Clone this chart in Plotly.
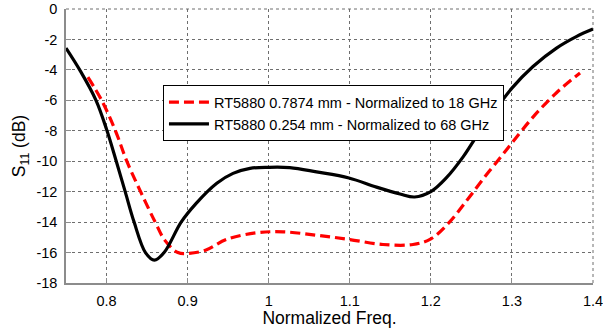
import plotly.graph_objects as go

# Data
black_x = [0.75, 0.768, 0.787, 0.80, 0.812, 0.823, 0.834, 0.848, 0.859, 0.871, 0.892,
           0.91, 0.936, 0.956, 0.977, 1.00, 1.026, 1.059, 1.099, 1.133, 1.162, 1.18,
           1.20, 1.219, 1.24, 1.256, 1.273, 1.30, 1.326, 1.355, 1.38, 1.40]
black_y = [-2.57, -4.1, -6.0, -7.9, -10.0, -12.0, -14.0, -16.0, -16.5, -16.0, -14.0,
           -12.8, -11.45, -10.8, -10.47, -10.4, -10.42, -10.7, -11.1, -11.7, -12.15, -12.35,
           -12.0, -11.1, -9.7, -8.4, -7.1, -5.2, -3.78, -2.57, -1.8, -1.32]

red_x = [0.777, 0.794, 0.811, 0.825, 0.842, 0.86, 0.872, 0.888, 0.902, 0.922,
         0.948, 0.985, 1.018, 1.059, 1.099, 1.141, 1.178, 1.20, 1.223, 1.244, 1.264,
         1.285, 1.30, 1.326, 1.355, 1.384]
red_y = [-4.48, -6.0, -8.0, -10.0, -12.0, -14.0, -15.2, -16.0, -16.05, -15.85,
         -15.14, -14.7, -14.64, -14.86, -15.14, -15.47, -15.47, -15.1, -14.0, -12.6, -11.2,
         -9.8, -8.8, -7.1, -5.5, -4.2]

x_ticks = [0.8, 0.9, 1.0, 1.1, 1.2, 1.3, 1.4]
x_tick_labels = ["0.8", "0.9", "1", "1.1", "1.2", "1.3", "1.4"]
y_ticks = [0, -2, -4, -6, -8, -10, -12, -14, -16, -18]
y_tick_labels = ["0", "-2", "-4", "-6", "-8", "-10", "-12", "-14", "-16", "-18"]

name_red = "RT5880 0.7874 mm - Normalized to 18 GHz"
name_black = "RT5880 0.254 mm - Normalized to 68 GHz"

FONT = "Liberation Sans, Arial, sans-serif"

fig = go.Figure()
fig.add_trace(go.Scatter(x=red_x, y=red_y, mode="lines", name=name_red,
                         line=dict(color="#ff0000", width=3.2, dash="10px,5px",
                                   shape="spline", smoothing=1.0)))
fig.add_trace(go.Scatter(x=black_x, y=black_y, mode="lines", name=name_black,
                         line=dict(color="#000000", width=3.2,
                                   shape="spline", smoothing=1.0)))

axis_common = dict(
    showgrid=True, gridcolor="#6e6e6e", griddash="dot", gridwidth=1,
    showline=True, linecolor="#8c8c8c", linewidth=1.5,
    ticks="inside", ticklen=5, tickcolor="#8c8c8c", tickwidth=1,
    zeroline=False, tickfont=dict(family=FONT, size=14.5, color="#000"),
    ticklabeloverflow="allow", automargin=False,
)

fig.update_layout(
    width=603, height=328,
    margin=dict(l=66, r=10, t=9, b=45, autoexpand=False),
    paper_bgcolor="white", plot_bgcolor="white",
    font=dict(family=FONT, size=14.5, color="#000"),
    xaxis=dict(range=[0.75, 1.4], tickvals=x_ticks, ticktext=x_tick_labels,
               title=dict(text="Normalized Freq.", font=dict(family=FONT, size=17.5),
                          standoff=2),
               ticklabelstandoff=4, **axis_common),
    yaxis=dict(range=[-18, 0], tickvals=y_ticks, ticktext=y_tick_labels,
               title=dict(text="S<sub>11</sub> (dB)", font=dict(family=FONT, size=17.5),
                          standoff=6),
               ticklabelstandoff=4, **axis_common),
    legend=dict(x=0.184, y=0.722, xanchor="left", yanchor="top",
                bgcolor="white", bordercolor="#000", borderwidth=1,
                font=dict(family=FONT, size=14.5, color="#000"),
                tracegroupgap=0, itemwidth=40),
    showlegend=True,
)

# top and right dotted borders like the reference's box grid
fig.add_shape(type="line", xref="paper", yref="paper", x0=0, x1=1, y0=1, y1=1,
              line=dict(color="#6e6e6e", width=1, dash="dot"), layer="below")
fig.add_shape(type="line", xref="paper", yref="paper", x0=1, x1=1, y0=0, y1=1,
              line=dict(color="#6e6e6e", width=1, dash="dot"), layer="below")

fig.write_html("out.html")
